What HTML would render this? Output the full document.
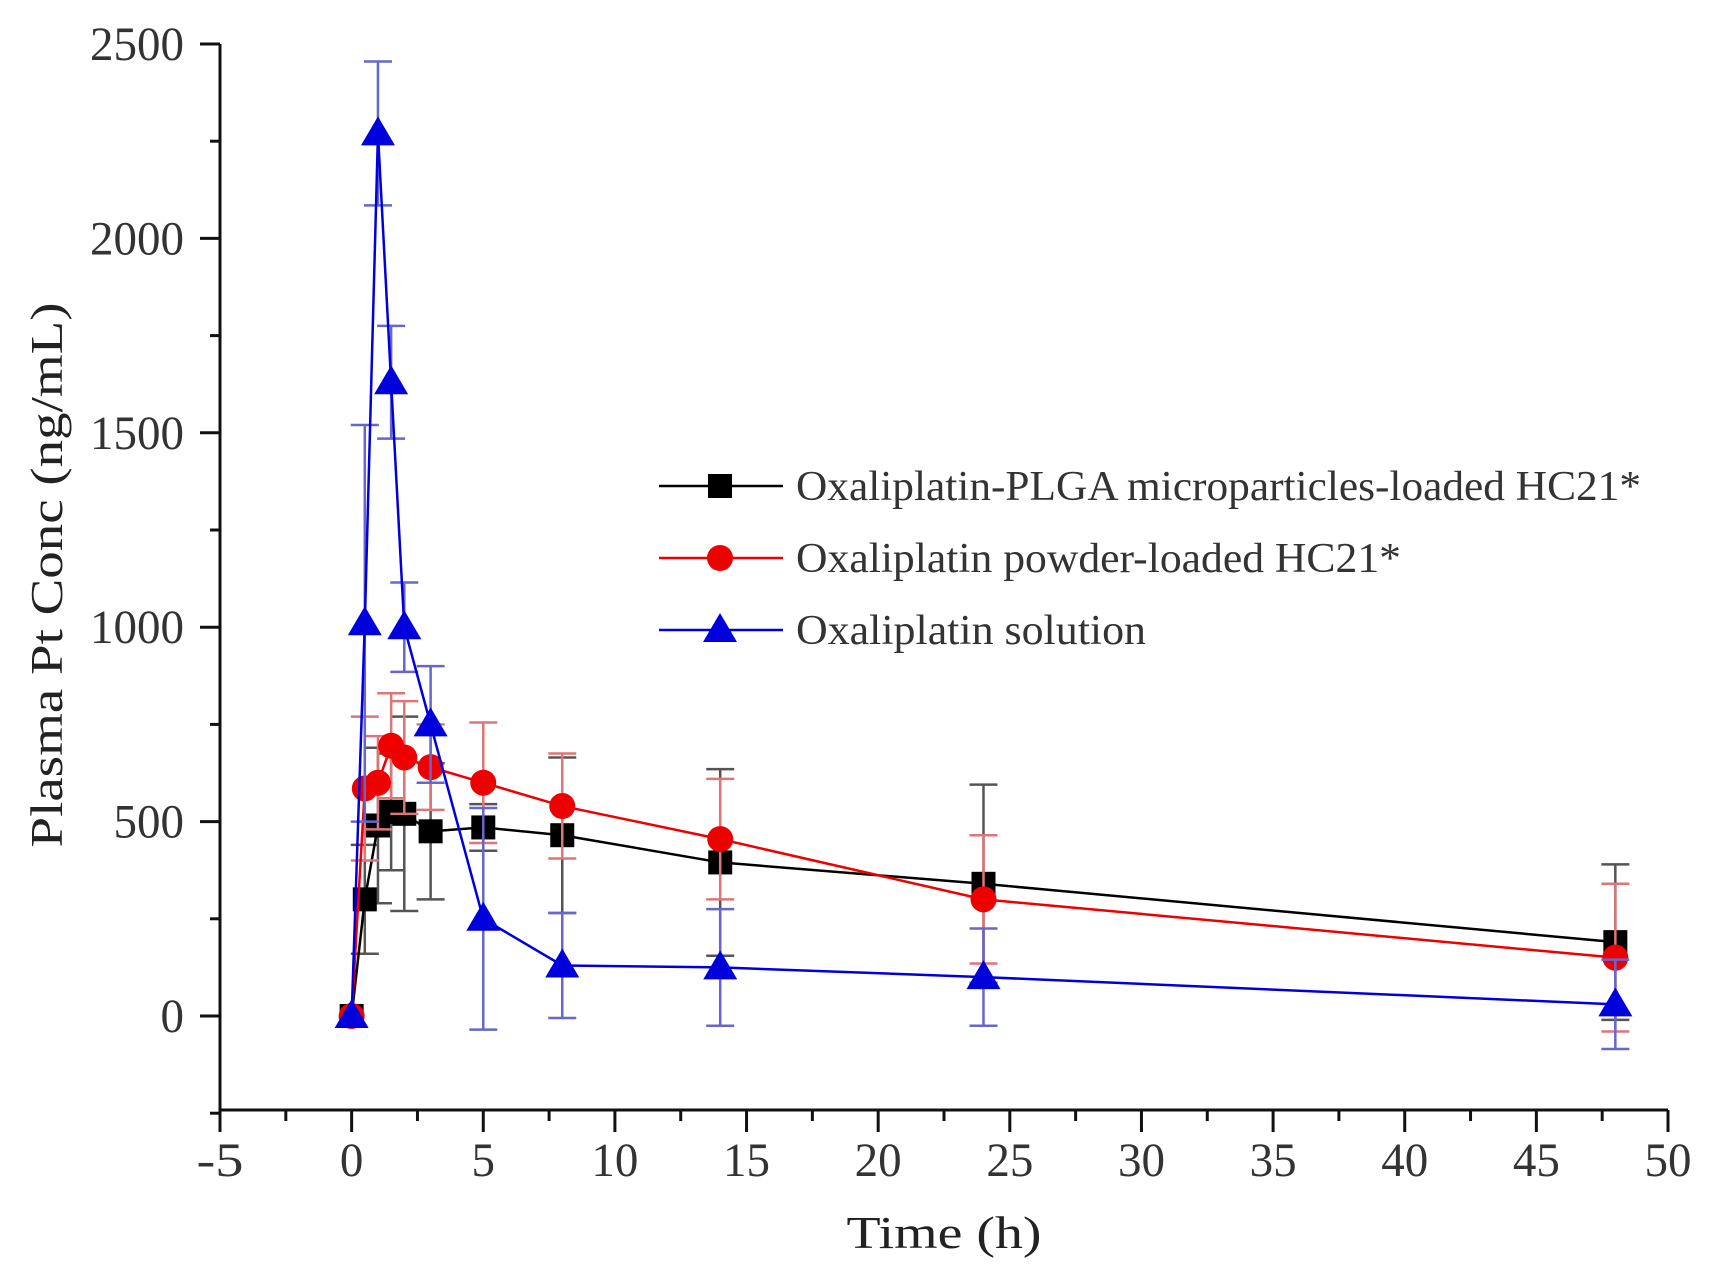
<!DOCTYPE html>
<html><head><meta charset="utf-8"><style>
html,body{margin:0;padding:0;background:#fff;}
svg{display:block;font-family:"Liberation Serif",serif;}
</style></head><body>
<svg id="chart" width="1709" height="1283" viewBox="0 0 1709 1283" xmlns="http://www.w3.org/2000/svg">
<g id="axes"></g>
<g id="series"></g>
<g id="legend"></g>
<text x="0" y="0" font-size="46" fill="#222" text-anchor="middle" transform="translate(62,575) rotate(-90)" textLength="545" lengthAdjust="spacingAndGlyphs">Plasma Pt Conc (ng/mL)</text>
<text x="944" y="1248" font-size="46" fill="#222" text-anchor="middle" textLength="195" lengthAdjust="spacingAndGlyphs">Time (h)</text>
</svg>
<script>
const times = [0, 0.5, 1, 1.5, 2, 3, 5, 8, 14, 24, 48];
const blackVals = [0, 300, 490, 525, 520, 475, 485, 465, 395, 340, 190];
const blackErr = [0, 140, 200, 150, 250, 175, 60, 200, 240, 255, 200];
const redVals = [0, 585, 600, 695, 665, 640, 600, 540, 455, 300, 150];
const redErr = [0, 185, 120, 135, 145, 110, 155, 135, 155, 165, 190];
const blueVals = [0, 1010, 2270, 1630, 1000, 750, 250, 130, 125, 100, 30];
const blueErr = [0, 510, 185, 145, 115, 150, 285, 135, 150, 125, 115];
const xTicks = [-5, 0, 5, 10, 15, 20, 25, 30, 35, 40, 45, 50];
const yTicks = [0, 500, 1000, 1500, 2000, 2500];
const legendLabels = ["Oxaliplatin-PLGA microparticles-loaded HC21*", "Oxaliplatin powder-loaded HC21*", "Oxaliplatin solution"];

const NS = "http://www.w3.org/2000/svg";
const X0 = 220, X1 = 1668, Y0 = 1016, Ytop = 44, Ybottom = 1110;
function xs(v){ return X0 + (v + 5) / 55 * (X1 - X0); }
function ys(v){ return Y0 - v / 2500 * (Y0 - Ytop); }
function mk(tag, attrs, parent){ const e = document.createElementNS(NS, tag); for (const k in attrs) e.setAttribute(k, attrs[k]); parent.appendChild(e); return e; }

const axes = document.getElementById('axes');
let l = mk('line', {x1:X0, y1:Ytop, x2:X0, y2:Ybottom, stroke:'#111', 'stroke-width':3}, axes);


l = mk('line', {x1:X0, y1:Ybottom, x2:X1, y2:Ybottom, stroke:'#111', 'stroke-width':3}, axes);


yTicks.forEach(v => {
  const t = mk('line', {x1:X0-20, y1:ys(v), x2:X0, y2:ys(v), stroke:'#111', 'stroke-width':3}, axes);
  
  
  const tx = mk('text', {x:184, y:ys(v)+16, 'font-size':48, fill:'#333', 'text-anchor':'end', textLength: String(v).length*23.5, lengthAdjust:'spacingAndGlyphs'}, axes);
  tx.textContent = v;
  
  
});
for (let v = -250; v < 2500; v += 500) {
  const t = mk('line', {x1:X0-10, y1:ys(v), x2:X0, y2:ys(v), stroke:'#111', 'stroke-width':3}, axes);
  
  
}
xTicks.forEach(v => {
  const t = mk('line', {x1:xs(v), y1:Ybottom, x2:xs(v), y2:Ybottom+22, stroke:'#111', 'stroke-width':3}, axes);
  
  
  const tx = mk('text', {x:xs(v), y:1176, 'font-size':48, fill:'#333', 'text-anchor':'middle', textLength: String(v).length*23.5, lengthAdjust:'spacingAndGlyphs'}, axes);
  tx.textContent = v;
  
  
});
for (let v = -2.5; v < 50; v += 5) {
  const t = mk('line', {x1:xs(v), y1:Ybottom, x2:xs(v), y2:Ybottom+11, stroke:'#111', 'stroke-width':3}, axes);
  
  
}

function marker(shape, cx, cy, color, parent){
  let m;
  if (shape === 'square') m = mk('rect', {x:cx-12, y:cy-12, width:24, height:24, fill:color}, parent);
  else if (shape === 'circle') m = mk('circle', {cx:cx, cy:cy, r:13, fill:color}, parent);
  else m = mk('polygon', {points:`${cx},${cy-17} ${cx-17},${cy+12} ${cx+17},${cy+12}`, fill:color}, parent);
  return m;
}
const seriesDefs = [
  {name:'microparticles', vals:blackVals, err:blackErr, color:'#000', errColor:'#555', shape:'square'},
  {name:'powder', vals:redVals, err:redErr, color:'#e00', errColor:'#d77', shape:'circle'},
  {name:'solution', vals:blueVals, err:blueErr, color:'#00d', errColor:'#66c', shape:'triangle'}
];
const sg = document.getElementById('series');
seriesDefs.forEach(s => {
  const g = mk('g', {}, sg);
  
  
  times.forEach((t, i) => {
    if (!s.err[i]) return;
    const x = xs(t), a = ys(s.vals[i] + s.err[i]), b = ys(s.vals[i] - s.err[i]);
    const e = mk('path', {d:`M${x},${a}V${b}M${x-14},${a}H${x+14}M${x-14},${b}H${x+14}`, stroke:s.errColor, 'stroke-width':2.5, fill:'none'}, g);
    
    
  });
  const pl = mk('polyline', {points: times.map((t,i)=>xs(t)+','+ys(s.vals[i])).join(' '), stroke:s.color, 'stroke-width':2.5, fill:'none'}, g);
  
  
  times.forEach((t, i) => {
    const m = marker(s.shape, xs(t), ys(s.vals[i]), s.color, g);
    
    
  });
});

const lg = document.getElementById('legend');
const lw = [845, 605, 350];
seriesDefs.forEach((s, i) => {
  const y = 486 + i * 72;
  const g = mk('g', {}, lg);
  
  
  const ln = mk('line', {x1:659, y1:y, x2:783, y2:y, stroke:s.color, 'stroke-width':2.5}, g);
  
  
  const m = marker(s.shape, 720, y, s.color, g);
  
  
  const tx = mk('text', {x:796, y:y+14, 'font-size':42, fill:'#333', textLength:lw[i], lengthAdjust:'spacingAndGlyphs'}, g);
  tx.textContent = legendLabels[i];
  
  
});
</script>
</body></html>
